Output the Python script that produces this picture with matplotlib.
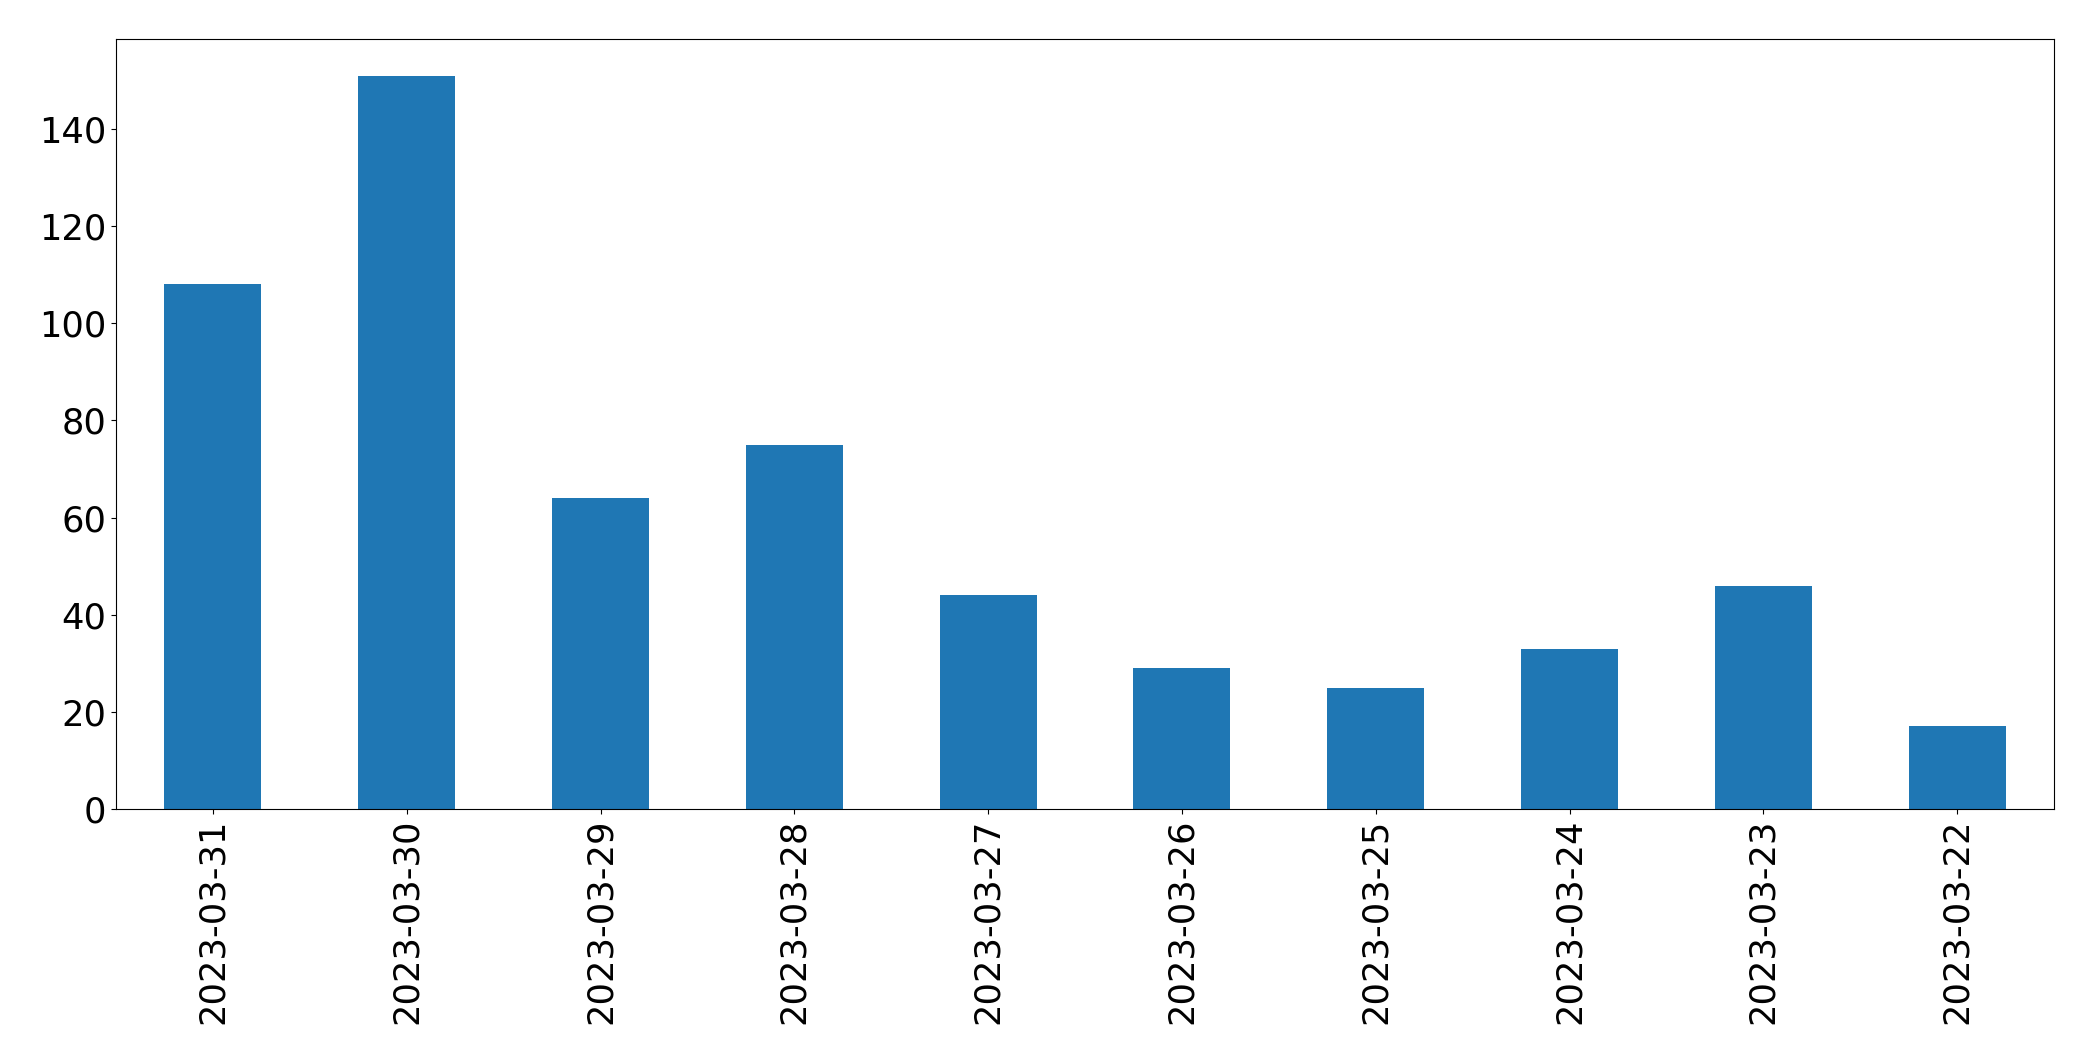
import matplotlib
matplotlib.use("Agg")
import matplotlib.pyplot as plt
import numpy as np

dates = ["2023-03-31", "2023-03-30", "2023-03-29", "2023-03-28", "2023-03-27",
         "2023-03-26", "2023-03-25", "2023-03-24", "2023-03-23", "2023-03-22"]
counts = [108, 151, 64, 75, 44, 29, 25, 33, 46, 17]

fig = plt.figure(figsize=(20.93, 10.61), dpi=100)
ax = fig.add_axes([116/2093, 1-809/1061, (2054-116)/2093, (809-39)/1061])
x = np.arange(len(dates))
ax.bar(x, counts, width=0.5, color="#1f77b4")
ax.set_xlim(-0.5, len(dates)-0.5)
ax.set_xticks(x)
ax.set_xticklabels(dates, rotation=90)
ax.tick_params(axis="both", labelsize=25.4)
fig.savefig("out.png", dpi=100)
